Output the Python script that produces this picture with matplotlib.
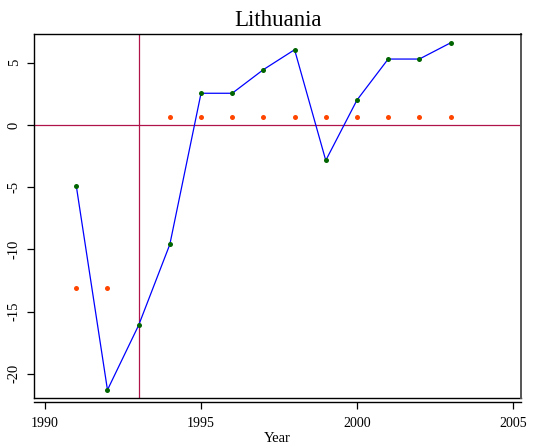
import matplotlib
matplotlib.use("Agg")
from matplotlib import pyplot as plt
from matplotlib.lines import Line2D

plt.rcParams['font.family'] = ['Liberation Serif', 'DejaVu Serif']

years = [1991, 1992, 1993, 1994, 1995, 1996, 1997,
         1998, 1999, 2000, 2001, 2002, 2003]
growth = [-4.9, -21.3, -16.1, -9.6, 2.55, 2.55, 4.45,
          6.05, -2.85, 2.0, 5.3, 5.3, 6.6]

ref_years = [1991, 1992, 1994, 1995, 1996, 1997,
             1998, 1999, 2000, 2001, 2002, 2003]
ref_values = [-13.1, -13.1, 0.67, 0.67, 0.67, 0.67,
              0.67, 0.67, 0.67, 0.67, 0.67, 0.67]

break_year = 1993
x_ticks = [1990, 1995, 2000, 2005]
y_ticks = [-20, -15, -10, -5, 0, 5]

fig = plt.figure(figsize=(5.33, 4.48), dpi=100)
ax = fig.add_axes([0.0647, 0.1116, 0.9128, 0.8124])

ax.plot(years, growth, color='#0000ff', lw=0.9, zorder=3)
ax.plot(years, growth, 'o', color='#006400', ms=3.6, mec='none', zorder=4)
ax.plot(ref_years, ref_values, 'o', color='#ff4500', ms=3.6, mec='none', zorder=4)

ax.axhline(0, color='#b0124a', lw=0.9, zorder=2)
ax.axvline(break_year, color='#b0124a', lw=0.9, zorder=2)

ax.set_xlim(1989.66, 2005.26)
ax.set_ylim(-21.95, 7.31)
ax.set_xticks(x_ticks)
ax.set_yticks(y_ticks)
ax.set_xticklabels([str(t) for t in x_ticks], fontsize=10.5)
ax.set_yticklabels([str(t) for t in y_ticks], fontsize=10.5,
                   rotation=90, va='center')
ax.tick_params(axis='both', direction='out', length=5, width=0.9, color='black')
ax.tick_params(axis='x', pad=6)
ax.tick_params(axis='y', pad=5)

for side in ['top', 'right', 'left', 'bottom']:
    ax.spines[side].set_linewidth(1.0)
ax.spines['right'].set_color('#555555')
ax.spines['right'].set_linewidth(1.4)
# x axis sits just below the plot frame
ax.spines['bottom'].set_position(('outward', 3))
ax.add_line(Line2D([0, 1], [0, 0], transform=ax.transAxes, color='black',
                   lw=1.0, clip_on=False))

ax.set_title('Lithuania', fontsize=16.5, pad=6)
ax.set_xlabel('Year', fontsize=10.5, labelpad=1)

fig.savefig('out.png', dpi=100)
